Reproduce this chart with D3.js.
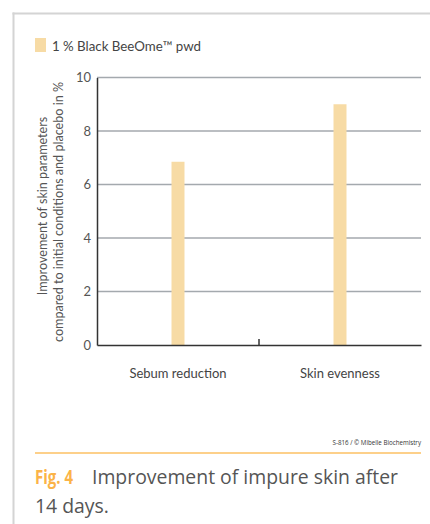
<!DOCTYPE html>
<html><head><meta charset="utf-8">
<script src="https://cdn.jsdelivr.net/npm/d3@7"></script>
<style>
html,body{margin:0;padding:0;background:#fff;}
svg{display:block;}
</style></head>
<body>
<svg id="c" width="430" height="524"></svg>
<script>
const categories = ["Sebum reduction", "Skin evenness"];
const values = [6.85, 9.0];
const yTicks = [0, 2, 4, 6, 8, 10];
const seriesName = "1\u202F% Black BeeOme\u2122 pwd";
const yTitle = ["Improvement of skin parameters", "compared to initial conditions and placebo in %"];
const credit = "S-816 / \u00A9 Mibelle Biochemistry";
const figLabel = "Fig. 4";
const captionLines = ["Improvement of impure skin after", "14 days."];

(function(){
const barColor = "#f7dba5";
const svg = d3.select("#c");
const chartFont = "Lato, 'Noto Sans', sans-serif";

// frame
svg.append("line").attr("x1",13.5).attr("x2",13.5).attr("y1",12.5).attr("y2",524)
  .attr("stroke","#d4d4d4").attr("stroke-width",2);
svg.append("line").attr("x1",12.5).attr("x2",430).attr("y1",13.5).attr("y2",13.5)
  .attr("stroke","#d4d4d4").attr("stroke-width",2);

// legend
svg.append("rect").attr("x",35).attr("y",38).attr("width",11).attr("height",14).attr("fill",barColor);
svg.append("text").attr("x",52).attr("y",51).text(seriesName)
  .attr("font-family",chartFont).attr("font-size",13.3).attr("fill","#444");

const pLeft = 97, pRight = 421, pTop = 77.5, pBottom = 345;
const x = d3.scaleBand().domain(categories).range([pLeft, pRight]);
const y = d3.scaleLinear().domain([0, 10]).range([pBottom, pTop]);

// gridlines
svg.append("g").selectAll("line").data(yTicks.filter(d => d > 0)).join("line")
  .attr("x1", pLeft).attr("x2", pRight).attr("y1", d => y(d)).attr("y2", d => y(d))
  .attr("stroke","#a4a9ae").attr("stroke-width",1.5);

// bars
const bw = 13;
svg.append("g").selectAll("rect").data(values).join("rect")
  .attr("x",(d,i) => x(categories[i]) + x.bandwidth()/2 - bw/2)
  .attr("width", bw)
  .attr("y", d => y(d))
  .attr("height", d => y(0) - y(d))
  .attr("fill", barColor);

// y axis
const yAxis = d3.axisLeft(y).tickValues(yTicks).tickSize(0).tickPadding(6);
const gy = svg.append("g").attr("transform",`translate(${pLeft},0)`).call(yAxis);
gy.select(".domain").attr("stroke","#333").attr("stroke-width",1.5);
gy.selectAll("text").attr("font-family",chartFont).attr("font-size",13).attr("fill","#555");

// x axis
const xAxis = d3.axisBottom(x).tickSize(0).tickPadding(24);
const gx = svg.append("g").attr("transform",`translate(0,${pBottom})`).call(xAxis);
gx.select(".domain").attr("stroke","#333").attr("stroke-width",1.5);
gx.selectAll("text").attr("font-family",chartFont).attr("font-size",13).attr("fill","#444");
// middle separator tick
svg.append("line").attr("x1",x(categories[1])).attr("x2",x(categories[1]))
  .attr("y1",pBottom).attr("y2",pBottom-6).attr("stroke","#333").attr("stroke-width",1.5);

// y title
svg.append("text").attr("transform","translate(47,206) rotate(-90)").attr("text-anchor","middle")
  .attr("font-family",chartFont).attr("font-size",12.6).attr("fill","#555").text(yTitle[0]);
svg.append("text").attr("transform","translate(63,212) rotate(-90)").attr("text-anchor","middle")
  .attr("font-family",chartFont).attr("font-size",12.6).attr("fill","#555").text(yTitle[1]);

// credit
svg.append("text").attr("x",421).attr("y",445).attr("text-anchor","end")
  .attr("font-family","'Open Sans', sans-serif").attr("font-size",6.2).attr("fill","#333").text(credit);

// orange rule
svg.append("line").attr("x1",35).attr("x2",421).attr("y1",453).attr("y2",453)
  .attr("stroke","#fdd08a").attr("stroke-width",2);

// caption
svg.append("text").attr("x",35).attr("y",484)
  .attr("font-family","'Open Sans', sans-serif").attr("font-size",19.4).attr("font-weight","bold")
  .attr("fill","#fbb347").attr("textLength",38).attr("lengthAdjust","spacingAndGlyphs").text(figLabel);
svg.append("text").attr("x",92).attr("y",484)
  .attr("font-family","'Open Sans', sans-serif").attr("font-size",19.4).attr("fill","#555").text(captionLines[0]);
svg.append("text").attr("x",35).attr("y",513)
  .attr("font-family","'Open Sans', sans-serif").attr("font-size",19.4).attr("fill","#555").text(captionLines[1]);
})();
</script>
</body></html>
